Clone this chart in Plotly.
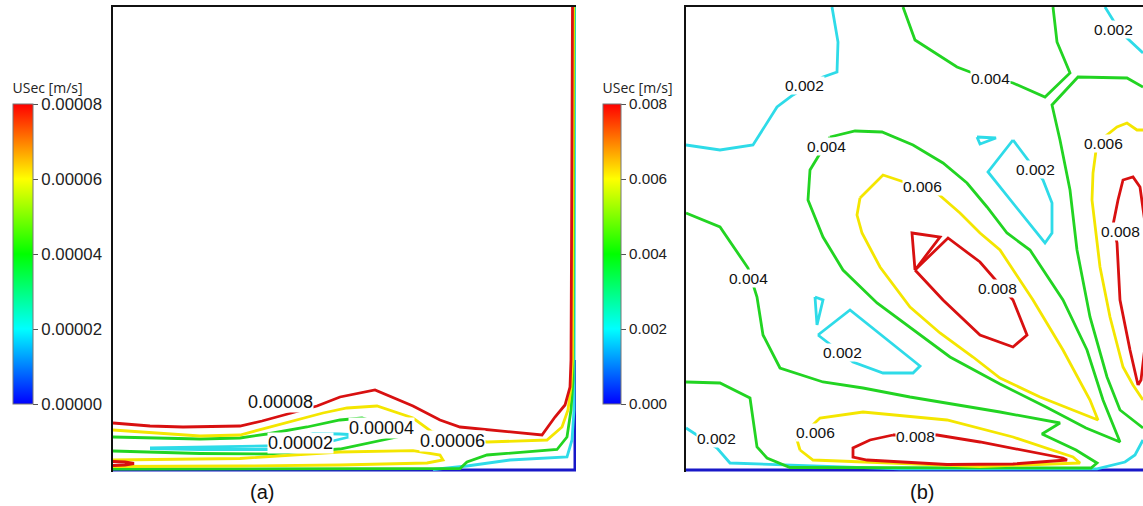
import plotly.graph_objects as go

# ---------------- data: panel (a)  (x: distance from left wall, y: height above bottom) -------------
A_LEVELS = [0.0, 0.00002, 0.00004, 0.00006, 0.00008]
A_CB_TEXT = ["0.00000", "0.00002", "0.00004", "0.00006", "0.00008"]

a_red1_x = [0, 37, 70, 127, 149, 177, 204, 227, 262, 300, 327, 347, 429, 442, 452, 457, 458, 458.5, 459, 459.5]
a_red1_y = [47, 44, 43, 44, 49, 57, 64, 73, 80, 64, 50, 43, 35, 53, 65, 83, 110, 220, 370, 463]
a_red2_x = [0, 12, 21, 12, 0]
a_red2_y = [8.5, 8, 6.5, 5, 4.5]

a_yel1_x = [0, 87, 127, 177, 210, 234, 264, 300, 319, 374, 434, 449, 455, 458, 459.5, 460.5]
a_yel1_y = [40, 34, 35, 48, 57, 62, 64, 52, 38, 28, 30, 43, 60, 83, 110, 463]
a_yel2_x = [0, 127, 227, 300, 327, 330, 314, 227, 127, 0]
a_yel2_y = [10, 11.5, 18, 19.3, 15, 10, 7, 5, 4, 3.5]

a_grn1_x = [0, 87, 127, 154, 194, 227, 249, 282, 284, 257, 227, 154, 87, 0]
a_grn1_y = [33, 31, 32, 36, 43, 50, 52, 42, 33, 27, 21, 16, 16.5, 19]
a_grn2_x = [0, 347, 354, 374, 444, 454, 458, 460, 461]
a_grn2_y = [1, 1.5, 8, 15, 20.5, 33, 60, 90, 463]

a_cyn1_x = [37, 87, 154, 187, 200, 227, 244, 232, 207, 187, 154, 87, 37]
a_cyn1_y = [22, 23, 24, 32, 36.5, 36, 35, 32, 26, 22.5, 20.5, 20.5, 21.5]
a_cyn2_x = [320, 354, 397, 454, 459, 461, 462]
a_cyn2_y = [0.5, 4, 10, 13, 30, 60, 463]

a_blu_x = [0, 462, 462]
a_blu_y = [0, 0, 110]

a_lab_text = ["0.00008", "0.00004", "0.00002", "0.00006"]
a_lab_x = [167, 268, 187, 339]
a_lab_y = [68, 42, 27, 29]

# ---------------- data: panel (b) ----------------
B_LEVELS = [0.0, 0.002, 0.004, 0.006, 0.008]
B_CB_TEXT = ["0.000", "0.002", "0.004", "0.006", "0.008"]

b_cyn1_x = [146, 152, 151, 137, 107, 91, 67, 34, 0]
b_cyn1_y = [463, 428, 398, 393, 375, 363, 325, 320, 325]
b_cyn2_x = [419, 427, 441, 457]
b_cyn2_y = [463, 450, 432, 417]
b_cyn3_x = [291, 310, 294, 291]
b_cyn3_y = [333, 332, 326, 333]
b_cyn4_x = [327, 302, 359, 366, 366, 357, 327]
b_cyn4_y = [330, 298, 227, 237, 267, 290, 330]
b_cyn5_x = [129, 137, 131, 129]
b_cyn5_y = [173, 170, 145, 173]
b_cyn6_x = [132, 164, 234, 227, 197, 167, 132]
b_cyn6_y = [135, 160, 104, 97, 97, 108, 135]
b_cyn7_x = [0, 11, 31, 44, 214, 411, 439, 449, 457]
b_cyn7_y = [42, 35, 22, 7, 1.2, 1.2, 8, 15, 30]

b_grn1_x = [217, 229, 271, 284, 327, 359, 384, 371, 367]
b_grn1_y = [463, 430, 403, 398, 387, 373, 397, 428, 463]
b_grn2_x = [457, 441, 392, 366, 374, 384, 391, 404, 421, 434, 457]
b_grn2_y = [383, 392, 393, 365, 330, 280, 220, 153, 93, 60, 42]
b_grn3_x = [144, 169, 196, 227, 257, 281, 301, 321, 344, 377, 401, 417, 434, 400, 360, 314, 264, 224, 191, 157, 137, 122, 124, 144]
b_grn3_y = [333, 339, 338, 325, 307, 287, 263, 237, 220, 170, 120, 70, 28, 42, 63, 86, 113, 143, 167, 200, 233, 270, 300, 333]
b_grn4_x = [0, 34, 62, 71, 77, 94, 137, 177, 224, 261, 314, 374, 356, 390, 411, 405, 300, 104, 81, 71, 64, 34, 0]
b_grn4_y = [257, 243, 202, 173, 135, 102, 88, 82, 73, 67, 58, 47, 36, 20, 7, 2, 2, 2.5, 12, 23, 72, 87, 88]

b_yel1_x = [174, 197, 251, 274, 294, 314, 347, 377, 404, 412, 354, 314, 287, 254, 224, 194, 176, 171, 174]
b_yel1_y = [272, 295, 277, 257, 237, 220, 170, 120, 70, 50, 73, 92, 113, 137, 163, 203, 237, 255, 272]
b_yel2_x = [457, 451, 441, 431, 411, 407, 406, 414, 424, 437, 447, 457]
b_yel2_y = [340, 340, 347, 343, 327, 297, 270, 203, 153, 103, 85, 70]
b_yel3_x = [114, 111, 134, 177, 261, 327, 387, 394, 294, 127, 114]
b_yel3_y = [20, 30, 52, 58, 50, 33, 13, 7, 3.5, 10, 20]

b_red1_x = [229, 262, 294, 307, 327, 341, 327, 294, 257, 229]
b_red1_y = [200, 232, 208, 193, 170, 135, 123, 135, 170, 200]
b_red2_x = [229, 226, 254, 229]
b_red2_y = [200, 237, 233, 200]
b_red3_x = [452, 444, 434, 431, 427, 432, 437, 447, 454, 460, 461, 455, 452]
b_red3_y = [85, 120, 170, 227, 245, 270, 290, 293, 283, 240, 140, 90, 85]
b_red4_x = [207, 251, 294, 377, 381, 327, 261, 181, 167, 167, 184, 207]
b_red4_y = [35, 35, 28, 12, 10, 6, 5.5, 10, 13, 22, 30, 35]

b_blu_x = [0, 457]
b_blu_y = [0, 0]

b_lab_text = ["0.002", "0.004", "0.002", "0.004", "0.006", "0.002", "0.006", "0.008",
              "0.004", "0.008", "0.002", "0.002", "0.006", "0.008"]
b_lab_x = [118, 304, 427, 140, 236, 349, 417, 434, 62, 311, 156, 30, 129, 229]
b_lab_y = [385, 392, 441, 324, 284, 301, 327, 239, 192, 182, 118, 32, 38, 34]

PANEL_LABELS = ["(a)", "(b)"]

# ---------------- styling ----------------
RED, YEL, GRN, CYN, BLU = "#d81010", "#f4e600", "#22d422", "#2edbe8", "#1818c8"
RAINBOW = [[0, "#0000ff"], [0.25, "#00ffff"], [0.5, "#00ff00"], [0.75, "#ffff00"], [1, "#ff0000"]]
FONT = "Liberation Sans, Arial, sans-serif"
W, H = 1143, 506
LW = 2.8

fig = go.Figure()

def add_line(x, y, color, xa, ya, width=LW):
    fig.add_trace(go.Scatter(x=x, y=y, mode="lines", line=dict(color=color, width=width),
                             xaxis=xa, yaxis=ya, hoverinfo="skip", showlegend=False))

# panel (a)
add_line(a_blu_x, a_blu_y, BLU, "x", "y", 3)
for xs, ys in [(a_cyn2_x, a_cyn2_y), (a_cyn1_x, a_cyn1_y)]:
    add_line(xs, ys, CYN, "x", "y")
for xs, ys in [(a_grn2_x, a_grn2_y), (a_grn1_x, a_grn1_y)]:
    add_line(xs, ys, GRN, "x", "y")
for xs, ys in [(a_yel2_x, a_yel2_y), (a_yel1_x, a_yel1_y)]:
    add_line(xs, ys, YEL, "x", "y")
for xs, ys in [(a_red2_x, a_red2_y), (a_red1_x, a_red1_y)]:
    add_line(xs, ys, RED, "x", "y")

# panel (b)
add_line(b_blu_x, b_blu_y, BLU, "x2", "y2", 3.2)
for xs, ys in [(b_cyn1_x, b_cyn1_y), (b_cyn2_x, b_cyn2_y), (b_cyn3_x, b_cyn3_y), (b_cyn4_x, b_cyn4_y),
               (b_cyn5_x, b_cyn5_y), (b_cyn6_x, b_cyn6_y), (b_cyn7_x, b_cyn7_y)]:
    add_line(xs, ys, CYN, "x2", "y2")
for xs, ys in [(b_grn1_x, b_grn1_y), (b_grn2_x, b_grn2_y), (b_grn3_x, b_grn3_y), (b_grn4_x, b_grn4_y)]:
    add_line(xs, ys, GRN, "x2", "y2")
for xs, ys in [(b_yel1_x, b_yel1_y), (b_yel2_x, b_yel2_y), (b_yel3_x, b_yel3_y)]:
    add_line(xs, ys, YEL, "x2", "y2")
for xs, ys in [(b_red1_x, b_red1_y), (b_red2_x, b_red2_y), (b_red3_x, b_red3_y), (b_red4_x, b_red4_y)]:
    add_line(xs, ys, RED, "x2", "y2")

# invisible carriers for the two colour bars
fig.add_trace(go.Scatter(x=[10], y=[200], mode="markers", xaxis="x", yaxis="y",
                         marker=dict(color=[0], coloraxis="coloraxis", opacity=0, size=1),
                         hoverinfo="skip", showlegend=False))
fig.add_trace(go.Scatter(x=[10], y=[200], mode="markers", xaxis="x2", yaxis="y2",
                         marker=dict(color=[0], coloraxis="coloraxis2", opacity=0, size=1),
                         hoverinfo="skip", showlegend=False))

def cbar(xpix, thick, ticktext, tickvals, tsize):
    return dict(x=xpix / W, xanchor="left", xref="paper", y=102 / H, yanchor="bottom", yref="paper",
                len=324, lenmode="pixels", thickness=thick, thicknessmode="pixels",
                xpad=0, ypad=0, outlinewidth=1, outlinecolor="#777",
                ticks="outside", ticklen=5, tickcolor="#555", tickwidth=1,
                tickvals=tickvals, ticktext=ticktext,
                tickfont=dict(family=FONT, size=tsize, color="#222"),
                title=dict(text="USec [m/s]", side="top",
                           font=dict(family="Open Sans, sans-serif", size=14, color="#222")))

annotations = []
for t, x, y in zip(a_lab_text, a_lab_x, a_lab_y):
    annotations.append(dict(text=t, x=x, y=y, xref="x", yref="y", showarrow=False, bgcolor="white",
                            borderpad=0, xanchor="center", yanchor="middle",
                            font=dict(family=FONT, size=18, color="#111")))
for t, x, y in zip(b_lab_text, b_lab_x, b_lab_y):
    annotations.append(dict(text=t, x=x, y=y, xref="x2", yref="y2", showarrow=False, bgcolor="white",
                            borderpad=0, xanchor="center", yanchor="middle",
                            font=dict(family=FONT, size=15.5, color="#111")))
for t, px in zip(PANEL_LABELS, [262, 922]):
    annotations.append(dict(text=t, x=px / W, y=14 / H, xref="paper", yref="paper", showarrow=False,
                            xanchor="center", yanchor="middle",
                            font=dict(family=FONT, size=20, color="#111")))

ax_common = dict(showgrid=False, zeroline=False, showticklabels=False, ticks="", showline=True,
                 linecolor="#111", linewidth=2)
fig.update_layout(
    width=W, height=H, margin=dict(l=0, r=0, t=0, b=0),
    paper_bgcolor="white", plot_bgcolor="white", showlegend=False,
    xaxis=dict(domain=[113 / W, 576 / W], range=[0, 463], side="top", **ax_common),
    yaxis=dict(domain=[34 / H, 499 / H], range=[-2, 463], side="left", **ax_common),
    xaxis2=dict(domain=[686 / W, 1.0], range=[0, 457], side="top", anchor="y2", **ax_common),
    yaxis2=dict(domain=[34 / H, 499 / H], range=[-2, 463], side="left", anchor="x2", **ax_common),
    coloraxis=dict(colorscale=RAINBOW, cmin=A_LEVELS[0], cmax=A_LEVELS[-1],
                   colorbar=cbar(13, 20, A_CB_TEXT, A_LEVELS, 16.8)),
    coloraxis2=dict(colorscale=RAINBOW, cmin=B_LEVELS[0], cmax=B_LEVELS[-1],
                    colorbar=cbar(603, 18, B_CB_TEXT, B_LEVELS, 15.2)),
    annotations=annotations,
)
fig.write_html("out.html", config={"displayModeBar": False},
               post_script="document.body.style.margin='0px';document.body.style.overflow='hidden';")
